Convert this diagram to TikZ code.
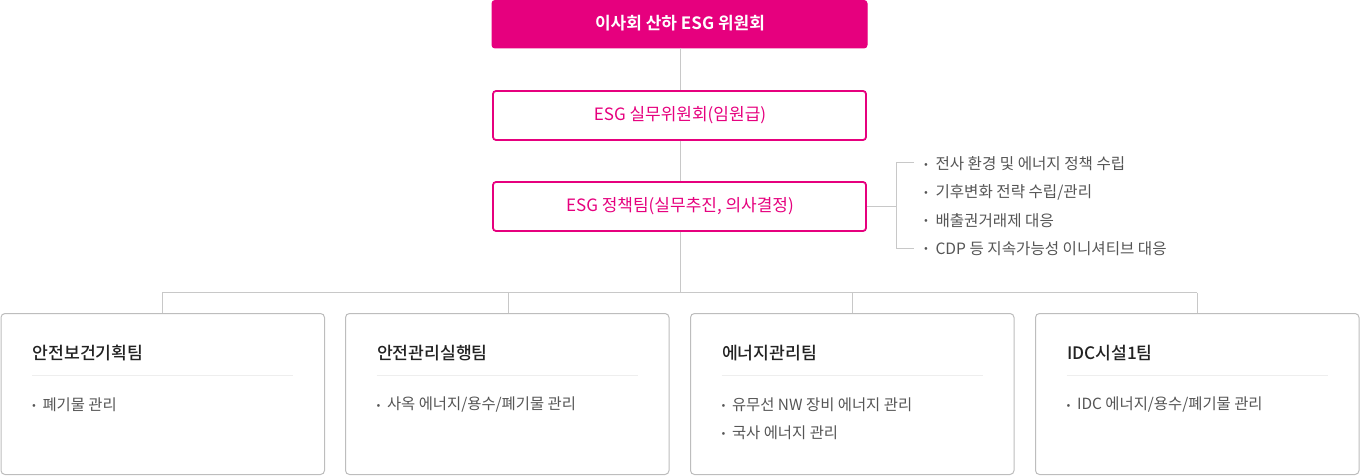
\documentclass[tikz,border=0pt]{standalone}
\usepackage{fontspec}
\setmainfont{Noto Sans CJK KR}[BoldFont={Noto Sans CJK KR Bold}]
\newfontfamily\krmed{Noto Sans CJK KR Medium}
\definecolor{esgpink}{HTML}{E6007E}
\definecolor{conline}{HTML}{C8C8C8}
\definecolor{boxgray}{HTML}{BDBDBD}
\definecolor{sepgray}{HTML}{EEEEEE}
\definecolor{bultext}{HTML}{555555}
\definecolor{titletext}{HTML}{222222}
\begin{document}
\begin{tikzpicture}[x=1pt,y=-1pt,
  topbox/.style={draw=esgpink,fill=esgpink,rounded corners=3pt,line width=1pt},
  pinkbox/.style={draw=esgpink,fill=white,rounded corners=3pt,line width=1.8pt},
  teambox/.style={draw=boxgray,fill=white,rounded corners=4pt,line width=1pt},
  conn/.style={draw=conline,line width=1pt},
  sep/.style={draw=sepgray,line width=1pt},
  toptxt/.style={text=white,font=\fontsize{17}{20}\selectfont\bfseries},
  pinktxt/.style={text=esgpink,font=\fontsize{17}{20}\selectfont},
  teamtitle/.style={text=titletext,anchor=west,font=\fontsize{17.2}{20}\krmed},
  bul/.style={text=bultext,anchor=west,font=\fontsize{15.4}{18}\selectfont},
  rbul/.style={text=bultext,anchor=west,font=\fontsize{15.6}{18}\selectfont},
  dot/.style={text=bultext,anchor=center,font=\fontsize{15}{18}\selectfont\bfseries}]
\useasboundingbox (0,0) rectangle (1360,476);
% top boxes
\draw[topbox] (492,0.5) rectangle (867,48);
\node[toptxt] (t1) at (680,23) {이사회 산하 ESG 위원회};
\coordinate (b1s) at (680,48);
\draw[pinkbox] (493,91) rectangle (866,140);
\node[pinktxt] (t2) at (680,115) {ESG 실무위원회(임원급)};
\coordinate (b2n) at (680,90);
\coordinate (b2s) at (680,141);
\draw[pinkbox] (493,182) rectangle (866,231);
\node[pinktxt] (t3) at (680,206) {ESG 정책팀(실무추진, 의사결정)};
\coordinate (b3n) at (680,181);
\coordinate (b3s) at (680,232);
\coordinate (b3e) at (867,206);
% vertical connectors
\draw[conn] (b1s) -- (b2n);
\draw[conn] (b2s) -- (b3n);
\coordinate (hub) at (680,292.5);
\draw[conn] (b3s) -- (hub);
% horizontal bus
\coordinate (busL) at (162,292.5);
\coordinate (busR) at (1197,292.5);
\draw[conn] (busL) -- (busR);
% right bracket
\coordinate (brm) at (896.5,206);
\coordinate (brt) at (896.5,163);
\coordinate (brb) at (896.5,248);
\coordinate (brtt) at (914,163);
\coordinate (brbt) at (914,248);
\draw[conn] (b3e) -- (brm);
\draw[conn] (brtt) -- (brt) -- (brb) -- (brbt);
\foreach \y/\t [count=\i] in {164/{전사 환경 및 에너지 정책 수립}, 192/{기후변화 전략 수립/관리}, 220.5/{배출권거래제 대응}, 248.5/{CDP 등 지속가능성 이니셔티브 대응}}{
  \node[dot] (rd\i) at (926,{\y+2.5}) {·};
  \node[rbul] (rt\i) at (932,\y) {\t};
}
% team boxes
\foreach \xl/\xc/\ti [count=\i] in {1/162/안전보건기획팀, 345.5/508/안전관리실행팀, 690.5/852.5/에너지관리팀, 1035.5/1197/IDC시설1팀}{
  \coordinate (drop\i) at (\xc,292.5);
  \coordinate (tbn\i) at (\xc,313.5);
  \draw[conn] (drop\i) -- (tbn\i);
  \draw[teambox] (\xl,313.5) rectangle ({\xl+323.5},474.5);
  \node[teamtitle] (tt\i) at ({\xl+28},353) {\ti};
  \coordinate (sl\i) at ({\xl+31},375.5);
  \coordinate (sr\i) at ({\xl+292},375.5);
  \draw[sep] (sl\i) -- (sr\i);
}
\node[dot] (d1) at (34,407.5) {·};
\node[bul] (b1) at (39,405) {폐기물 관리};
\node[dot] (d2) at (378.5,407.5) {·};
\node[bul] (b2) at (383.5,405) {사옥 에너지/용수/폐기물 관리};
\node[dot] (d3) at (723.5,407.5) {·};
\node[bul] (b3) at (728.5,405) {유무선 NW 장비 에너지 관리};
\node[dot] (d4) at (723.5,435.5) {·};
\node[bul] (b4) at (728.5,433) {국사 에너지 관리};
\node[dot] (d5) at (1068.5,407.5) {·};
\node[bul] (b5) at (1073.5,405) {IDC 에너지/용수/폐기물 관리};
\end{tikzpicture}
\end{document}
